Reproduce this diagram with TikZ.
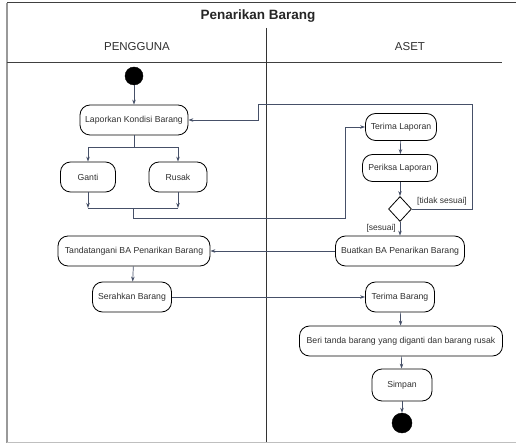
\documentclass[tikz,border=0pt]{standalone}
\usepackage{fontspec}
\setmainfont{Liberation Sans}
\usetikzlibrary{arrows.meta,shapes.geometric}
\definecolor{conn}{HTML}{465068}
\definecolor{txt}{HTML}{303030}
\tikzset{
  act/.style={draw=black,line width=0.8pt,rounded corners=10pt,minimum height=30pt,inner xsep=2pt,font=\fontsize{8.7}{9.5}\selectfont,text=txt},
  conline/.style={draw=conn,line width=0.7pt},
  arr/.style={conline,-{Stealth[length=5pt,width=3.5pt]}},
  lbl/.style={font=\fontsize{8.5}{9.5}\selectfont,text=txt,inner sep=1pt},
  dot/.style={circle,fill=black,draw=black,inner sep=0pt},
  dec/.style={diamond,draw=black,line width=0.8pt,minimum width=23pt,minimum height=25pt,inner sep=0pt},
  lane/.style={font=\fontsize{11.5}{13}\selectfont,text=txt},
}
\begin{document}
\begin{tikzpicture}[x=1pt,y=-1pt]
\useasboundingbox (0,0) rectangle (516,443);
% frame
\draw[gray!80,line width=1.8pt] (7,3) -- (7,443);
\draw[black!75,line width=1pt] (7,3) -- (516,3);
\draw[black!75,line width=1pt] (7,63) -- (502,63);
\draw[black!80,line width=0.9pt] (266,28) -- (266,443);
\draw[gray!50,line width=1pt] (7,442) -- (516,442);
\node[font=\fontsize{13.5}{15}\selectfont\bfseries,text=black!85] (title) at (258,16) {Penarikan Barang};
\node[lane] (l1) at (137,47) {PENGGUNA};
\node[lane] (l2) at (410,47) {ASET};
% nodes
\node[dot,minimum size=18pt] (start) at (134,76) {};
\node[act,minimum width=108pt] (lap) at (134,120) {Laporkan Kondisi Barang};
\node[act,minimum width=55pt] (ganti) at (88,177) {Ganti};
\node[act,minimum width=58pt] (rusak) at (178,177) {Rusak};
\node[act,minimum width=71pt,minimum height=27pt] (tlap) at (401,127) {Terima Laporan};
\node[act,minimum width=75pt,minimum height=27pt] (plap) at (400,168) {Periksa Laporan};
\node[dec] (dec) at (400,209) {};
\node[act,minimum width=129pt] (buat) at (400,251) {Buatkan BA Penarikan Barang};
\node[act,minimum width=152pt] (ttd) at (134,251) {Tandatangani BA Penarikan Barang};
\node[act,minimum width=79pt] (serah) at (132,297) {Serahkan Barang};
\node[act,minimum width=69pt] (tbar) at (400,297) {Terima Barang};
\node[act,minimum width=203pt,inner xsep=1pt] (beri) at (401,341) {Beri tanda barang yang diganti dan barang rusak};
\node[act,minimum width=60pt,minimum height=32pt] (simpan) at (402,385) {Simpan};
\node[dot,minimum size=20pt] (end) at (402,423) {};
% coordinates
\coordinate (fork) at (134,147);
\coordinate (jg) at (88,208);
\coordinate (jr) at (178,208);
\coordinate (jm) at (133,208);
\coordinate (jd) at (133,218);
\coordinate (ju) at (345,218);
\coordinate (tr) at (472,209);
\coordinate (tt) at (472,104);
\coordinate (tl) at (258,104);
% connectors
\draw[arr] (start) -- (lap);
\draw[conline] (lap) -- (fork);
\draw[arr] (fork) -| (ganti.north);
\draw[arr] (fork) -| (rusak.north);
\draw[arr] (ganti) -- (jg);
\draw[arr] (rusak) -- (jr);
\draw[conline] (jg) -- (jr);
\draw[arr] (jm) -- (jd) -- (ju) |- (tlap.west);
\draw[arr] (tlap) -- (plap);
\draw[arr] (plap) -- (dec);
\draw[arr] (dec.east) -- (tr) -- (tt) -- (tl) |- (lap.east);
\node[lbl,anchor=south west] (lts) at (416,206) {[tidak sesuai]};
\draw[arr] (dec) -- (buat);
\node[lbl,anchor=east] (ls) at (397,228) {[sesuai]};
\draw[arr] (buat) -- (ttd);
\draw[arr] (ttd) -- (serah);
\draw[arr] (serah) -- (tbar);
\draw[arr] (tbar) -- (beri);
\draw[arr] (beri) -- (simpan);
\draw[arr] (simpan) -- (end);
\end{tikzpicture}
\end{document}
